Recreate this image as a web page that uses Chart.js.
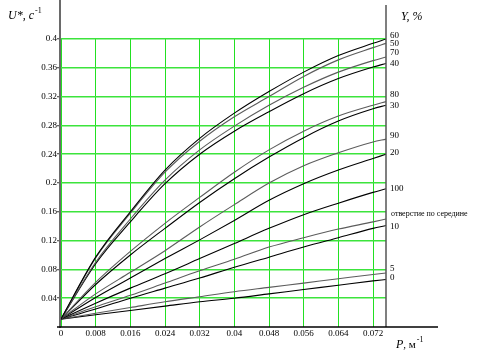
<!DOCTYPE html>
<html>
<head>
<meta charset="utf-8">
<script src="https://cdn.jsdelivr.net/npm/chart.js@4"></script>
<style>
html,body{margin:0;padding:0;background:#fff;}
canvas{display:block;}
</style>
</head>
<body>
<canvas id="c" width="479" height="356"></canvas>
<script>
// ---- data ----
const P = [0, 0.008, 0.016, 0.024, 0.032, 0.040, 0.048, 0.056, 0.064, 0.072, 0.075];
const u60 = [0.011, 0.097, 0.160, 0.218, 0.262, 0.297, 0.327, 0.354, 0.377, 0.394, 0.400];
const u50 = [0.011, 0.096, 0.158, 0.215, 0.258, 0.292, 0.320, 0.348, 0.371, 0.388, 0.394];
const u70 = [0.011, 0.090, 0.150, 0.204, 0.246, 0.279, 0.308, 0.333, 0.354, 0.370, 0.375];
const u40 = [0.011, 0.088, 0.146, 0.199, 0.240, 0.272, 0.299, 0.324, 0.345, 0.361, 0.366];
const u80 = [0.011, 0.062, 0.105, 0.144, 0.180, 0.215, 0.246, 0.272, 0.293, 0.308, 0.313];
const u30 = [0.011, 0.059, 0.100, 0.137, 0.173, 0.206, 0.236, 0.263, 0.286, 0.303, 0.308];
const u90 = [0.011, 0.046, 0.076, 0.106, 0.139, 0.170, 0.200, 0.224, 0.242, 0.257, 0.261];
const u20 = [0.011, 0.041, 0.068, 0.095, 0.121, 0.148, 0.176, 0.199, 0.218, 0.234, 0.240];
const u100 = [0.011, 0.033, 0.054, 0.074, 0.095, 0.116, 0.137, 0.156, 0.172, 0.187, 0.192];
const uMid = [0.011, 0.028, 0.044, 0.061, 0.078, 0.094, 0.111, 0.124, 0.136, 0.146, 0.150];
const u10 = [0.011, 0.025, 0.040, 0.054, 0.068, 0.083, 0.097, 0.111, 0.124, 0.137, 0.141];
const u5 = [0.011, 0.019, 0.027, 0.035, 0.042, 0.049, 0.055, 0.061, 0.067, 0.073, 0.075];
const u0 = [0.011, 0.017, 0.023, 0.029, 0.035, 0.040, 0.046, 0.052, 0.058, 0.064, 0.066];
const seriesLabels = ['60','50','70','40','80','30','90','20','100','отверстие по середине','10','5','0'];
const seriesValues = [u60,u50,u70,u40,u80,u30,u90,u20,u100,uMid,u10,u5,u0];
const xTicks = [0, 0.008, 0.016, 0.024, 0.032, 0.040, 0.048, 0.056, 0.064, 0.072];
const xTickLabels = ['0','0.008','0.016','0.024','0.032','0.04','0.048','0.056','0.064','0.072'];
const yTicks = [0.04, 0.08, 0.12, 0.16, 0.2, 0.24, 0.28, 0.32, 0.36, 0.4];
const yTickLabels = ['0.04','0.08','0.12','0.16','0.2','0.24','0.28','0.32','0.36','0.4'];

// ---- style ----
const BLACK = '#000000', GREY = '#5c5c5c';
const seriesColors = [BLACK, GREY, GREY, BLACK, GREY, BLACK, GREY, BLACK, BLACK, GREY, BLACK, GREY, BLACK];
const labelOffsets = [-3, 0, -4, 0, -7, 0, -3, -2, 0, -5, 1, -4, -2];
const SERIF = '"Liberation Serif", "DejaVu Serif", serif';

const datasets = seriesValues.map((vals, i) => ({
  label: seriesLabels[i],
  data: vals.map((v, k) => ({x: P[k], y: v})),
  borderColor: seriesColors[i],
  borderWidth: 1.1,
  pointRadius: 0,
  fill: false,
  cubicInterpolationMode: 'monotone'
}));

const decor = {
  id: 'decor',
  afterDraw(chart) {
    const ctx = chart.ctx;
    const ys = chart.scales.y;
    const a = chart.chartArea;
    ctx.save();
    // left axis
    ctx.strokeStyle = '#6a6a6a';
    ctx.lineWidth = 2;
    ctx.beginPath(); ctx.moveTo(a.left - 1, 0); ctx.lineTo(a.left - 1, a.bottom + 1); ctx.stroke();
    // right axis
    ctx.strokeStyle = '#555555';
    ctx.lineWidth = 1.5;
    ctx.beginPath(); ctx.moveTo(a.right, 5); ctx.lineTo(a.right, a.bottom); ctx.stroke();
    // bottom axis
    ctx.strokeStyle = '#000';
    ctx.lineWidth = 1.5;
    ctx.beginPath(); ctx.moveTo(a.left - 4, a.bottom); ctx.lineTo(438, a.bottom); ctx.stroke();
    // right-side series labels
    ctx.fillStyle = '#000';
    ctx.textBaseline = 'middle';
    ctx.textAlign = 'left';
    seriesValues.forEach((vals, i) => {
      const yv = ys.getPixelForValue(vals[vals.length - 1]) + labelOffsets[i];
      const long = seriesLabels[i].length > 4;
      ctx.font = (long ? '8px ' : '9px ') + SERIF;
      ctx.fillText(seriesLabels[i], a.right + (long ? 5 : 4), yv);
    });
    // axis titles
    ctx.textBaseline = 'alphabetic';
    ctx.font = 'italic 12px ' + SERIF;
    ctx.fillText('U*, c', 8, 19);
    let w = ctx.measureText('U*, c').width;
    ctx.font = '8px ' + SERIF;
    ctx.fillText('-1', 8 + w + 1, 13);
    ctx.font = 'italic 12px ' + SERIF;
    ctx.fillText('Y, %', 401, 20);
    ctx.font = 'italic 12px ' + SERIF;
    ctx.fillText('P', 396, 348);
    w = ctx.measureText('P').width;
    ctx.font = '11px ' + SERIF;
    ctx.fillText(', м', 396 + w, 348);
    const w2 = ctx.measureText(', м').width;
    ctx.font = '8px ' + SERIF;
    ctx.fillText('-1', 396 + w + w2 + 1, 342);
    ctx.restore();
  }
};

new Chart(document.getElementById('c'), {
  type: 'line',
  data: { datasets },
  options: {
    responsive: false,
    animation: false,
    devicePixelRatio: 1,
    layout: { padding: { top: 39, right: 93, left: 0, bottom: 0 } },
    plugins: { legend: { display: false }, tooltip: { enabled: false }, title: { display: false } },
    scales: {
      x: {
        type: 'linear',
        min: 0, max: 0.075,
        afterFit: s => { s.height = 29; },
        afterBuildTicks: s => { s.ticks = xTicks.map(v => ({value: v})); },
        ticks: {
          autoSkip: false, maxRotation: 0, padding: 1,
          font: { family: SERIF, size: 9 }, color: '#000',
          callback: (v, i) => xTickLabels[i]
        },
        grid: { color: '#22e022', lineWidth: 1, drawTicks: false },
        border: { display: false }
      },
      y: {
        type: 'linear',
        min: 0, max: 0.4,
        afterFit: s => { s.width = 61; },
        afterBuildTicks: s => { s.ticks = yTicks.map(v => ({value: v})); },
        ticks: {
          autoSkip: false, padding: 0,
          font: { family: SERIF, size: 9 }, color: '#000',
          callback: (v, i) => yTickLabels[i]
        },
        grid: { color: '#3ce43c', lineWidth: 1.5, tickLength: 4, tickColor: '#333', tickWidth: 1 },
        border: { display: false }
      }
    }
  },
  plugins: [decor]
});
</script>
</body>
</html>
